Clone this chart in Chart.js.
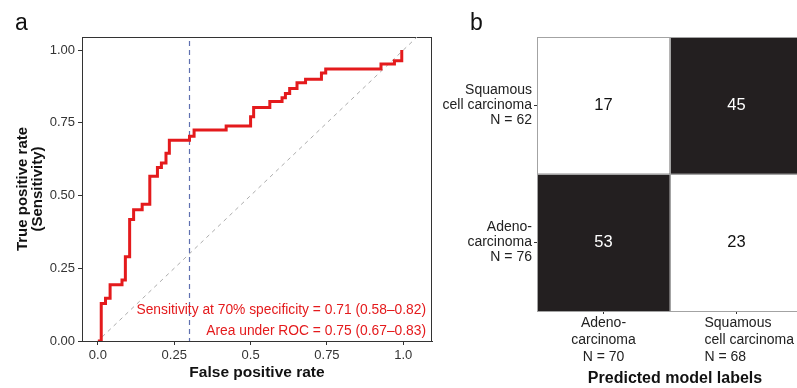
<!DOCTYPE html>
<html>
<head>
<meta charset="utf-8">
<script src="https://cdn.jsdelivr.net/npm/chart.js@4.4.1/dist/chart.umd.min.js"></script>
<style>
  html, body { margin:0; padding:0; background:#ffffff; width:797px; height:388px; overflow:hidden; }
  #wrapA { position:absolute; left:0; top:0; width:436px; height:388px; }
  #wrapB { position:absolute; left:437px; top:0; width:368px; height:388px; }
</style>
</head>
<body>
<div id="wrapA"><canvas id="roc" width="436" height="388"></canvas></div>
<div id="wrapB"><canvas id="cm" width="368" height="388"></canvas></div>
<script>
// ---------- Panel a: ROC curve ----------
const fpr = [0, 0.011, 0.025, 0.040, 0.079, 0.090, 0.104, 0.117, 0.145, 0.170, 0.195, 0.208, 0.223, 0.234, 0.300, 0.315, 0.420, 0.500, 0.510, 0.563, 0.603, 0.614, 0.628, 0.652, 0.680, 0.732, 0.746, 0.927, 0.971, 0.995];
const tpr = [0, 0.129, 0.147, 0.193, 0.210, 0.290, 0.418, 0.451, 0.470, 0.566, 0.596, 0.612, 0.645, 0.690, 0.704, 0.725, 0.739, 0.771, 0.803, 0.823, 0.836, 0.851, 0.868, 0.888, 0.900, 0.921, 0.935, 0.952, 0.963, 1.000];
const chanceLine = [-0.1, 1.2];
const specificityCut = 0.3;
const xTickValues = [0, 0.25, 0.5, 0.75, 1];
const xTickLabels = ['0.0', '0.25', '0.5', '0.75', '1.0'];
const yTickValues = [0, 0.25, 0.5, 0.75, 1];
const yTickLabels = ['0.00', '0.25', '0.50', '0.75', '1.00'];
const rocNotes = ['Sensitivity at 70% specificity = 0.71 (0.58\u20130.82)', 'Area under ROC = 0.75 (0.67\u20130.83)'];

// ---------- Panel b: confusion matrix ----------
const predictedLabels = [['Adeno-', 'carcinoma', 'N = 70'], ['Squamous', 'cell carcinoma', 'N = 68']];
const actualLabels = [['Adeno-', 'carcinoma', 'N = 76'], ['Squamous', 'cell carcinoma', 'N = 62']]; // bottom row first
const countsActualAdeno = [53, 23];
const countsActualSquamous = [17, 45];
const countRows = [countsActualAdeno, countsActualSquamous];

const FONT = "'Liberation Sans', Arial, Helvetica, sans-serif";
Chart.defaults.font.family = FONT;
Chart.defaults.color = '#333333';

const RED = '#e41a1c';

const rocDecor = {
  id: 'rocDecor',
  beforeDatasetsDraw(chart) {
    const {ctx, chartArea: a} = chart;
    ctx.save();
    ctx.strokeStyle = '#333333';
    ctx.lineWidth = 1;
    ctx.strokeRect(Math.round(a.left) + 0.5, Math.round(a.top) + 0.5, Math.round(a.right - a.left) - 1, Math.round(a.bottom - a.top));
    ctx.restore();
  },
  afterDraw(chart) {
    const {ctx, chartArea: a} = chart;
    ctx.save();
    ctx.fillStyle = RED;
    ctx.font = '13.8px ' + FONT;
    ctx.textAlign = 'right';
    ctx.textBaseline = 'middle';
    ctx.fillText(rocNotes[0], a.right - 6, a.bottom - 31);
    ctx.fillText(rocNotes[1], a.right - 6, a.bottom - 10);
    ctx.fillStyle = '#111111';
    ctx.font = '23px ' + FONT;
    ctx.textAlign = 'left';
    ctx.textBaseline = 'alphabetic';
    ctx.fillText('a', 15, 30);
    ctx.restore();
  }
};

new Chart(document.getElementById('roc'), {
  type: 'line',
  data: {
    datasets: [
      { label: 'ROC', data: fpr.map((x, i) => ({x: x, y: tpr[i]})), stepped: 'before',
        borderColor: RED, borderWidth: 3, pointRadius: 0, fill: false, order: 0 },
      { label: 'cut', data: [{x: specificityCut, y: chanceLine[0]}, {x: specificityCut, y: chanceLine[1]}],
        borderColor: '#5f70b0', borderWidth: 1.2, borderDash: [5, 4], pointRadius: 0, fill: false, order: 1 },
      { label: 'chance', data: chanceLine.map(v => ({x: v, y: v})),
        borderColor: '#acacac', borderWidth: 1, borderDash: [4, 4], pointRadius: 0, fill: false, order: 2 }
    ]
  },
  options: {
    responsive: false,
    animation: false,
    layout: { padding: { top: 37, right: 4, left: 0, bottom: 0 } },
    plugins: { legend: { display: false }, tooltip: { enabled: false } },
    scales: {
      x: {
        type: 'linear', min: -0.052, max: 1.094,
        afterBuildTicks: s => { s.ticks = xTickValues.map(v => ({value: v})); },
        afterFit: s => { s.height = 47; },
        ticks: { callback: (v, i) => xTickLabels[i], font: { size: 13 }, color: '#333333', padding: 3, maxRotation: 0, autoSkip: false },
        grid: { drawOnChartArea: false, tickLength: 4, color: '#333333' },
        border: { color: '#333333', width: 1 },
        title: { display: true, text: 'False positive rate', color: '#111111',
                 font: { size: 15.5, weight: 'bold' }, padding: { top: 0, bottom: 6 } }
      },
      y: {
        type: 'linear', min: 0, max: 1.045,
        afterBuildTicks: s => { s.ticks = yTickValues.map(v => ({value: v})); },
        afterFit: s => { s.width = 82; },
        ticks: { callback: (v, i) => yTickLabels[i], font: { size: 13 }, color: '#333333', padding: 3, autoSkip: false },
        grid: { drawOnChartArea: false, tickLength: 4, color: '#333333' },
        border: { color: '#333333', width: 1 },
        title: { display: true, text: ['True positive rate', '(Sensitivity)'], color: '#111111',
                 font: { size: 15, weight: 'bold', lineHeight: 1.0 }, padding: { top: 15.5, bottom: 0 } }
      }
    }
  },
  plugins: [rocDecor]
});

// ---------- Panel b chart ----------
const DARK = '#231f20';
const cellDecor = {
  id: 'cellDecor',
  afterDatasetsDraw(chart) {
    const {ctx} = chart;
    ctx.save();
    ctx.strokeStyle = '#a3a3a3';
    ctx.lineWidth = 1;
    chart.data.datasets.forEach((ds, r) => {
      chart.getDatasetMeta(r).data.forEach((bar, c) => {
        const p = bar.getProps(['x', 'y', 'base', 'width'], true);
        const l = Math.round(p.x - p.width / 2), rt = Math.round(p.x + p.width / 2);
        const t = Math.round(Math.min(p.y, p.base)), b = Math.round(Math.max(p.y, p.base));
        ctx.strokeRect(l + 0.5, t + 0.5, rt - l, b - t);
      });
    });
    chart.data.datasets.forEach((ds, r) => {
      chart.getDatasetMeta(r).data.forEach((bar, c) => {
        const p = bar.getProps(['x', 'y', 'base'], true);
        ctx.fillStyle = r === c ? '#ffffff' : '#111111';
        ctx.font = '16.5px ' + FONT;
        ctx.textAlign = 'center';
        ctx.textBaseline = 'middle';
        ctx.fillText(String(countRows[r][c]), p.x, (p.y + p.base) / 2);
      });
    });
    ctx.restore();
  },
  afterDraw(chart) {
    const {ctx, chartArea: a} = chart;
    const xs = chart.scales.x;
    ctx.save();
    ctx.fillStyle = '#222222';
    ctx.font = '14px ' + FONT;
    ctx.textBaseline = 'middle';
    predictedLabels.forEach((lines, i) => {
      const px = xs.getPixelForTick(i);
      lines.forEach((ln, k) => {
        const y = a.bottom + 12 + k * 17;
        if (i === 0) { ctx.textAlign = 'center'; ctx.fillText(ln, px, y); }
        else { ctx.textAlign = 'left'; ctx.fillText(ln, px - 32, y); }
      });
    });
    ctx.fillStyle = '#111111';
    ctx.font = 'bold 16px ' + FONT;
    ctx.textAlign = 'center';
    ctx.fillText('Predicted model labels', (a.left + a.right) / 2 + 5, a.bottom + 68);
    ctx.font = '23px ' + FONT;
    ctx.textAlign = 'left';
    ctx.textBaseline = 'alphabetic';
    ctx.fillText('b', 33, 30);
    ctx.restore();
  }
};

new Chart(document.getElementById('cm'), {
  type: 'bar',
  data: {
    labels: predictedLabels.map(l => l.join(' ')),
    datasets: countRows.map((row, r) => ({
      label: actualLabels[r].join(' '),
      data: row.map(() => [r, r + 1]),
      backgroundColor: row.map((v, c) => r === c ? DARK : '#ffffff'),
      borderWidth: 0,
      grouped: false,
      barPercentage: 1,
      categoryPercentage: 1
    }))
  },
  options: {
    responsive: false,
    animation: false,
    layout: { padding: { top: 37, right: 2, left: 0, bottom: 0 } },
    plugins: { legend: { display: false }, tooltip: { enabled: false } },
    scales: {
      x: {
        type: 'category', offset: true,
        afterFit: s => { s.height = 77; },
        ticks: { display: false },
        grid: { drawOnChartArea: false, offset: false, tickLength: 3, color: '#333333' },
        border: { display: false }
      },
      y: {
        type: 'linear', min: 0, max: 2,
        afterBuildTicks: s => { s.ticks = actualLabels.map((l, i) => ({value: i + 0.5})); },
        afterFit: s => { s.width = 100; },
        ticks: { callback: (v, i) => actualLabels[i], font: { size: 14, lineHeight: 1.07 }, color: '#222222', padding: 2, autoSkip: false },
        grid: { drawOnChartArea: false, tickLength: 3, color: '#333333' },
        border: { display: false }
      }
    }
  },
  plugins: [cellDecor]
});
</script>
</body>
</html>
